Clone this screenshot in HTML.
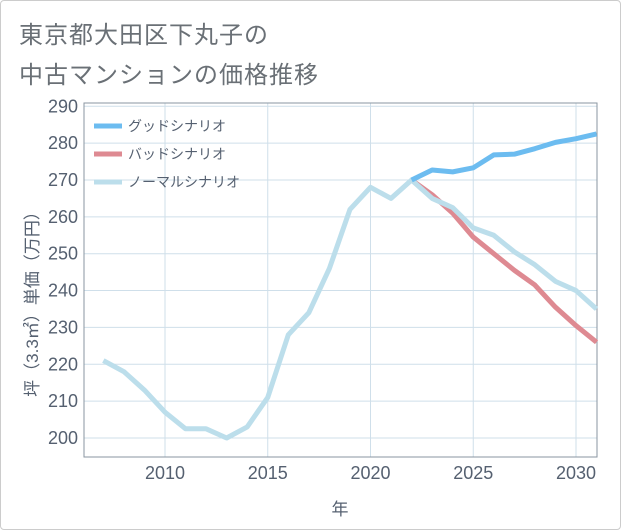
<!DOCTYPE html>
<html><head><meta charset="utf-8"><style>
body{margin:0;background:#fff;}
#wrap{position:relative;width:619px;height:528px;border:1px solid #ccc;border-radius:4px;background:#fff;font-family:"Liberation Sans","Noto Sans CJK JP",sans-serif;}
.t{position:absolute;left:18px;color:#6a7076;font-size:24px;letter-spacing:1px;}
</style></head><body>
<div id="wrap">
<div class="t" style="top:14px">東京都大田区下丸子の</div>
<div class="t" style="top:54px">中古マンションの価格推移</div>
<svg id="chart" width="621" height="530" style="position:absolute;left:-1px;top:-1px"></svg>
</div>
<script>
const years=[2007,2008,2009,2010,2011,2012,2013,2014,2015,2016,2017,2018,2019,2020,2021,2022,2023,2024,2025,2026,2027,2028,2029,2030,2031];
const normal=[221,218,213,207,202.5,202.5,200,203,211,228,234,246,262,268,265,270,265,262.5,257,255,250.5,247,242.5,240,235];
const goodYears=[2022,2023,2024,2025,2026,2027,2028,2029,2030,2031];
const good=[270,272.7,272.2,273.3,276.8,277,278.5,280.2,281.2,282.5];
const bad=[270,266,261,254.5,250,245.5,241.5,235.5,230.5,226];
const yTicks=[200,210,220,230,240,250,260,270,280,290];
const xTicks=[2010,2015,2020,2025,2030];
const legendLabels=["グッドシナリオ","バッドシナリオ","ノーマルシナリオ"];
const NS="http://www.w3.org/2000/svg";
const svg=document.getElementById('chart');
const L=84,R=597,T=103,B=457;
const x=v=>165+(v-2010)*20.55;
const y=v=>438-(v-200)*3.686;
function mk(t,a){const e=document.createElementNS(NS,t);for(const k in a)e.setAttribute(k,a[k]);svg.appendChild(e);return e;}
yTicks.forEach(v=>{
const g=mk('line',{x1:L,x2:R,y1:y(v),y2:y(v),stroke:'#cfdfea','stroke-width':1});


const t=mk('text',{x:L-6,y:y(v)+6,'text-anchor':'end','font-size':18,fill:'#556070'});t.textContent=v;


});
xTicks.forEach(v=>{
const g=mk('line',{x1:x(v),x2:x(v),y1:T,y2:B,stroke:'#cfdfea','stroke-width':1});


const t=mk('text',{x:x(v),y:B+22,'text-anchor':'middle','font-size':18,fill:'#556070'});t.textContent=v;


});
const fr=mk('rect',{x:L,y:T,width:R-L,height:B-T,fill:'none',stroke:'#8a95a0','stroke-width':1});


function line(xs,vs,c,name){const p=mk('polyline',{points:xs.map((v,i)=>x(v)+','+y(vs[i])).join(' '),fill:'none',stroke:c,'stroke-width':5,'stroke-linejoin':'round'});

}
line(goodYears,bad,'#de8a92','bad-scenario-line');
line(years,normal,'#bcdeeb','normal-scenario-line');
line(goodYears,good,'#6cbcf0','good-scenario-line');
const lc=['#6cbcf0','#de8a92','#bcdeeb'];
legendLabels.forEach((s,i)=>{
const ly=126+i*28;
const l=mk('line',{x1:94,x2:122,y1:ly,y2:ly,stroke:lc[i],'stroke-width':5});


const t=mk('text',{x:128,y:ly+5,'font-size':14,fill:'#556070'});t.textContent=s;


});
const xt=mk('text',{x:340,y:515,'text-anchor':'middle','font-size':17,fill:'#556070'});xt.textContent='年';


const yt=mk('text',{x:0,y:0,'text-anchor':'middle','font-size':17,fill:'#556070',transform:'translate(38,300) rotate(-90)'});yt.textContent='坪（3.3㎡）単価（万円）';


</script>
</body></html>
